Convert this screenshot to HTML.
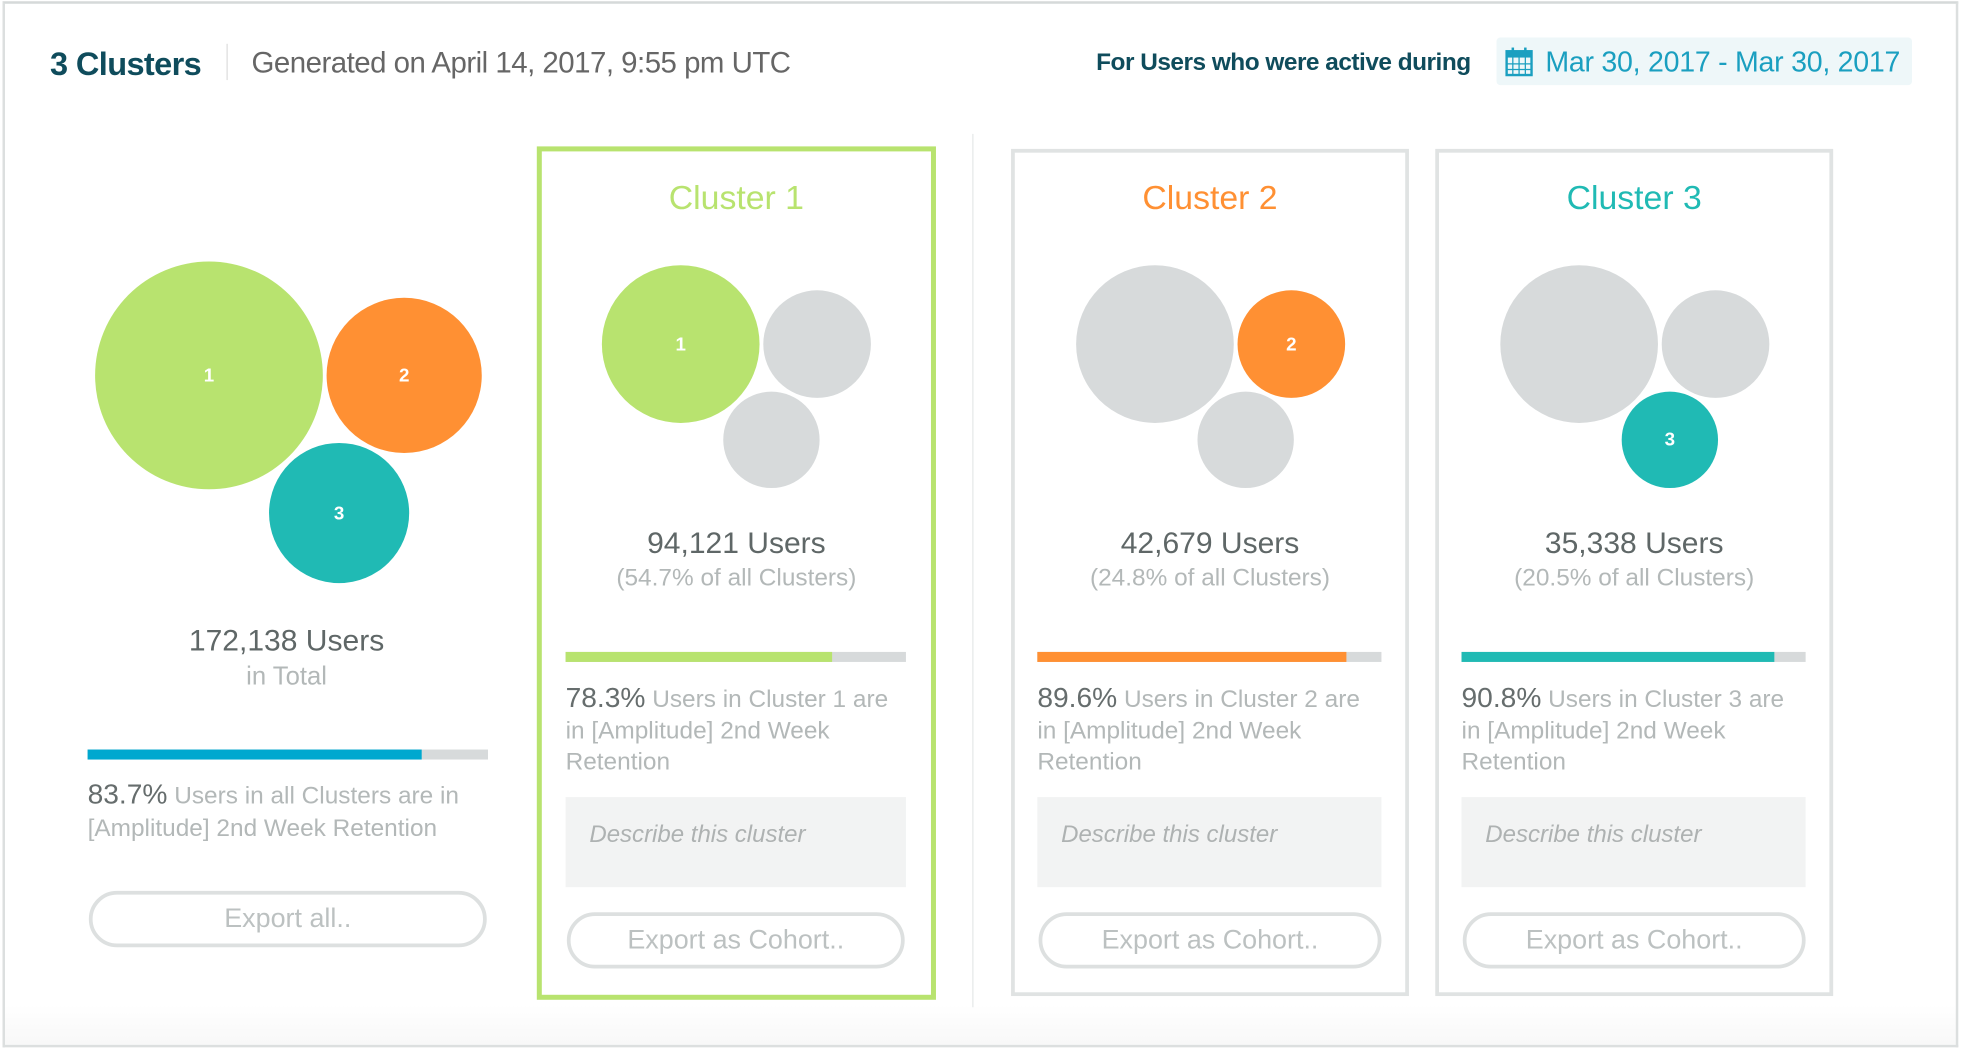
<!DOCTYPE html>
<html><head><meta charset="utf-8"><style>
html,body{margin:0;padding:0;width:1962px;height:1054px;overflow:hidden;background:#fff;font-family:"Liberation Sans",sans-serif}
#w{position:absolute;left:0;top:0;width:1568px;height:842px;transform:scale(1.2513);transform-origin:0 0}
.a{position:absolute}
.c{position:absolute;border-radius:50%;color:#fff;font-weight:bold;font-size:15px;display:flex;align-items:center;justify-content:center}
.card{position:absolute;top:119px;width:312px;height:671px;border:3px solid #e0e3e3}
.t{position:absolute;left:0;width:100%;text-align:center}
.bar{position:absolute;height:8px;background:#d7dadb}
.bar i{display:block;height:100%}
.ret{position:absolute;font-size:19.5px;line-height:25px;color:#b3b8b8}
.ret b{color:#666d6d;font-size:22.5px;font-weight:normal}
.desc{position:absolute;background:#f2f3f3;color:#aeb2b2;font-style:italic;font-size:19.2px;padding:20px 0 0 19px;box-sizing:border-box}
.btn{position:absolute;border:3px solid #dde0e0;border-radius:24px;box-sizing:border-box;text-align:center;color:#bcc1c1;font-size:21.5px;line-height:39px}
</style></head><body><div id="w">
<div class="a" style="left:2px;top:1px;width:1563px;height:836px;border:2px solid #dcdfdf;border-top-color:#d5d9d9;box-sizing:border-box;background:linear-gradient(#fff 0,#fff 800px,#f7f7f7 836px)"></div>
<div class="a" style="left:40px;top:36px;font-size:26px;font-weight:bold;color:#0f4c5c;letter-spacing:-0.5px">3 Clusters</div>
<div class="a" style="left:181px;top:35px;width:1px;height:29px;background:#ddd"></div>
<div class="a" style="left:201px;top:37px;font-size:23.5px;color:#666;letter-spacing:-0.4px">Generated on April 14, 2017, 9:55 pm UTC</div>
<div class="a" style="left:876px;top:39px;font-size:19.5px;font-weight:bold;color:#0f4c5c;letter-spacing:-0.4px">For Users who were active during</div>
<div class="a" style="left:1196px;top:30px;width:332px;height:38px;background:#eef7f9;border-radius:3px"></div>
<svg class="a" style="left:1203px;top:37px" width="22" height="24" viewBox="0 0 22 24"><rect x="1" y="4" width="20" height="19" fill="none" stroke="#1a9fc0" stroke-width="2"/><rect x="1" y="4" width="20" height="5" fill="#1a9fc0"/><rect x="5" y="1" width="2" height="5" fill="#1a9fc0"/><rect x="15" y="1" width="2" height="5" fill="#1a9fc0"/><g stroke="#1a9fc0" stroke-width="1"><line x1="1" y1="14" x2="21" y2="14"/><line x1="1" y1="18.5" x2="21" y2="18.5"/><line x1="6" y1="9" x2="6" y2="23"/><line x1="11" y1="9" x2="11" y2="23"/><line x1="16" y1="9" x2="16" y2="23"/></g></svg>
<div class="a" style="left:1235px;top:36px;font-size:22.8px;color:#1a9fc0;letter-spacing:-0.2px">Mar 30, 2017 - Mar 30, 2017</div>

<div class="c" style="left:76px;top:209px;width:182px;height:182px;background:#b8e36f">1</div>
<div class="c" style="left:261px;top:238px;width:124px;height:124px;background:#ff9033">2</div>
<div class="c" style="left:215px;top:354px;width:112px;height:112px;background:#20bab4">3</div>
<div class="a" style="left:69px;width:320px;top:499px;text-align:center;font-size:24px;color:#5f6767">172,138 Users</div>
<div class="a" style="left:69px;width:320px;top:529px;text-align:center;font-size:20.5px;color:#b3b8b8">in Total</div>
<div class="bar" style="left:70px;top:599px;width:320px"><i style="width:267px;background:#00a8cf"></i></div>
<div class="ret" style="left:70px;top:622px;width:330px;line-height:26px"><b>83.7%</b> Users in all Clusters are in [Amplitude] 2nd Week Retention</div>
<div class="btn" style="left:71px;top:712px;width:318px;height:45px">Export all..</div>
<div class="a" style="left:777px;top:107px;width:1px;height:698px;background:#e6e8e8"></div>

<div class="card" style="left:429px;top:117px;width:311px;height:674px;border:4px solid #b8e36f"></div>
<div class="card" style="left:808px"></div>
<div class="card" style="left:1147px"></div>

<div class="a" style="left:429px;top:117px;width:319px;height:682px">
 <div class="t" style="top:26px;font-size:27px;color:#b8e36f">Cluster 1</div>
 <div class="c" style="left:52px;top:95px;width:126px;height:126px;background:#b8e36f">1</div>
 <div class="c" style="left:181px;top:115px;width:86px;height:86px;background:#d7dadb"></div>
 <div class="c" style="left:149px;top:196px;width:77px;height:77px;background:#d7dadb"></div>
 <div class="t" style="top:304px;font-size:24px;color:#5f6767">94,121 Users</div>
 <div class="t" style="top:334px;font-size:19.5px;color:#b3b8b8">(54.7% of all Clusters)</div>
 <div class="bar" style="left:23px;top:404px;width:272px"><i style="width:213px;background:#b8e36f"></i></div>
 <div class="ret" style="left:23px;top:428px;width:272px"><b>78.3%</b> Users in Cluster 1 are in [Amplitude] 2nd Week Retention</div>
 <div class="desc" style="left:23px;top:520px;width:272px;height:72px">Describe this cluster</div>
 <div class="btn" style="left:24px;top:612px;width:270px;height:45px">Export as Cohort..</div>
</div>
<div class="a" style="left:808px;top:117px;width:318px;height:682px">
 <div class="t" style="top:26px;font-size:27px;color:#ff9033">Cluster 2</div>
 <div class="c" style="left:52px;top:95px;width:126px;height:126px;background:#d7dadb"></div>
 <div class="c" style="left:181px;top:115px;width:86px;height:86px;background:#ff9033">2</div>
 <div class="c" style="left:149px;top:196px;width:77px;height:77px;background:#d7dadb"></div>
 <div class="t" style="top:304px;font-size:24px;color:#5f6767">42,679 Users</div>
 <div class="t" style="top:334px;font-size:19.5px;color:#b3b8b8">(24.8% of all Clusters)</div>
 <div class="bar" style="left:21px;top:404px;width:275px"><i style="width:247px;background:#ff9033"></i></div>
 <div class="ret" style="left:21px;top:428px;width:275px"><b>89.6%</b> Users in Cluster 2 are in [Amplitude] 2nd Week Retention</div>
 <div class="desc" style="left:21px;top:520px;width:275px;height:72px">Describe this cluster</div>
 <div class="btn" style="left:22px;top:612px;width:274px;height:45px">Export as Cohort..</div>
</div>
<div class="a" style="left:1147px;top:117px;width:318px;height:682px">
 <div class="t" style="top:26px;font-size:27px;color:#20bab4">Cluster 3</div>
 <div class="c" style="left:52px;top:95px;width:126px;height:126px;background:#d7dadb"></div>
 <div class="c" style="left:181px;top:115px;width:86px;height:86px;background:#d7dadb"></div>
 <div class="c" style="left:149px;top:196px;width:77px;height:77px;background:#20bab4">3</div>
 <div class="t" style="top:304px;font-size:24px;color:#5f6767">35,338 Users</div>
 <div class="t" style="top:334px;font-size:19.5px;color:#b3b8b8">(20.5% of all Clusters)</div>
 <div class="bar" style="left:21px;top:404px;width:275px"><i style="width:250px;background:#20bab4"></i></div>
 <div class="ret" style="left:21px;top:428px;width:275px"><b>90.8%</b> Users in Cluster 3 are in [Amplitude] 2nd Week Retention</div>
 <div class="desc" style="left:21px;top:520px;width:275px;height:72px">Describe this cluster</div>
 <div class="btn" style="left:22px;top:612px;width:274px;height:45px">Export as Cohort..</div>
</div>
</div></body></html>
